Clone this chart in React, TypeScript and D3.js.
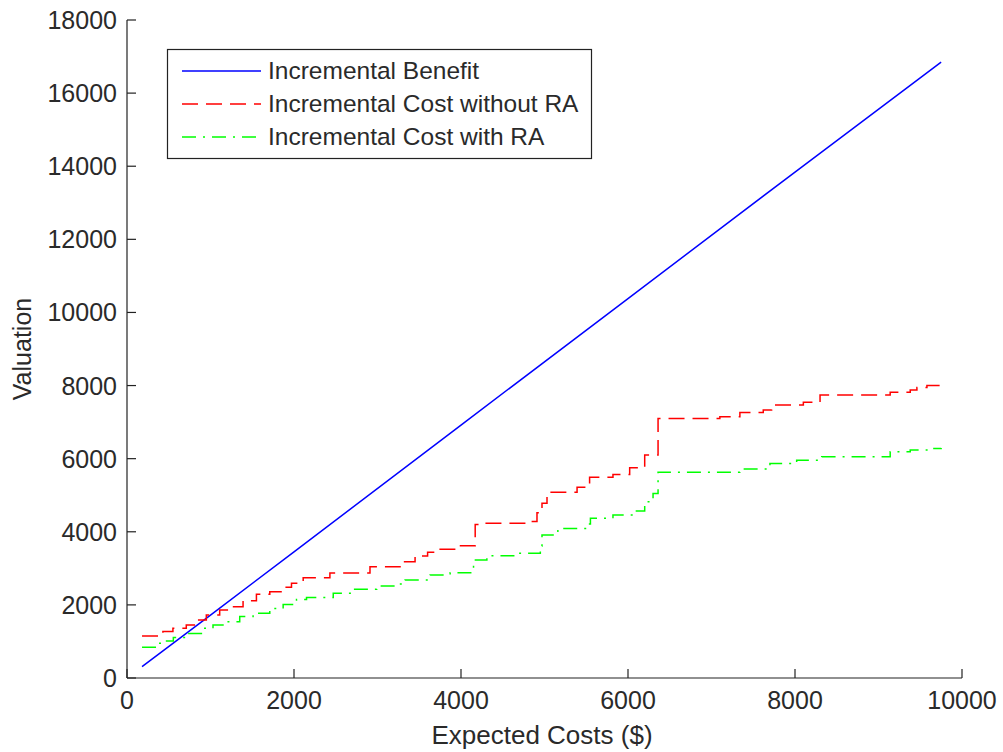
import React from "react";
import * as d3 from "d3";

const width = 1003;
const height = 752;

// expected cost ($) -> valuation
const benefitX = [180, 1000, 2000, 4000, 6000, 8000, 9750];
const benefitY = [310, 1720, 3450, 6920, 10380, 13840, 16850];

const costNoRaX = [180, 430, 550, 710, 830, 950, 1110, 1230, 1390, 1550, 1710, 1870, 1970, 2110, 2430, 2910, 3270, 3450, 3600, 3690, 3950, 4170, 4260, 4790, 4910, 4970, 5030, 5390, 5540, 5820, 6020, 6200, 6360, 7100, 7340, 7620, 7720, 8100, 8300, 9140, 9380, 9460, 9580, 9750];
const costNoRaY = [1150, 1270, 1360, 1450, 1590, 1720, 1860, 1950, 2110, 2290, 2360, 2480, 2590, 2740, 2870, 3040, 3180, 3340, 3440, 3520, 3620, 4200, 4230, 4280, 4520, 4780, 5080, 5215, 5490, 5570, 5750, 6100, 7100, 7150, 7265, 7330, 7470, 7540, 7740, 7815, 7880, 7950, 8000, 8010];

const costRaX = [180, 355, 455, 555, 715, 915, 1030, 1190, 1350, 1510, 1710, 1870, 2030, 2150, 2470, 2710, 2990, 3230, 3330, 3630, 3870, 4150, 4310, 4670, 4950, 4970, 5160, 5510, 5550, 5820, 6060, 6200, 6300, 6360, 7340, 7700, 8020, 8320, 9140, 9380, 9650, 9750];
const costRaY = [840, 950, 1010, 1110, 1220, 1360, 1450, 1540, 1680, 1770, 1900, 2010, 2150, 2200, 2320, 2430, 2520, 2570, 2680, 2820, 2880, 3230, 3345, 3410, 3610, 3910, 4090, 4210, 4370, 4460, 4570, 4820, 5050, 5630, 5720, 5870, 5960, 6050, 6190, 6240, 6280, 6290];

const xTicks = [0, 2000, 4000, 6000, 8000, 10000];
const yTicks = [0, 2000, 4000, 6000, 8000, 10000, 12000, 14000, 16000, 18000];

const series = [
  { name: "Incremental Benefit", xs: benefitX, ys: benefitY, color: "#0000ff", dash: "none", step: false },
  { name: "Incremental Cost without RA", xs: costNoRaX, ys: costNoRaY, color: "#ff0000", dash: "16,8", step: true },
  { name: "Incremental Cost with RA", xs: costRaX, ys: costRaY, color: "#00ff00", dash: "14,7,2,7", step: true },
];

const font = "'Liberation Sans', Arial, sans-serif";

export default function App() {
  const x = d3.scaleLinear().domain([0, 10000]).range([127, 962]);
  const y = d3.scaleLinear().domain([0, 18000]).range([678, 20]);

  const [x0, x1] = x.range();
  const [y0, y1] = y.range();

  return (
    <svg
      width={width}
      height={height}
      style={{ position: "absolute", left: 0, top: 0, background: "#fff" }}
      fontFamily={font}
    >
      {series.map((s) => {
        const pts = s.xs.map((v, i) => [v, s.ys[i]] as [number, number]);
        const line = d3
          .line<[number, number]>()
          .x((d) => x(d[0]))
          .y((d) => y(d[1]))
          .curve(s.step ? d3.curveStepAfter : d3.curveLinear);
        return (
          <path
            key={s.name}
            d={line(pts) || ""}
            fill="none"
            stroke={s.color}
            strokeWidth={1.5}
            strokeDasharray={s.dash}
          />
        );
      })}

      {/* axes, box off like matlab */}
      <line x1={x0} x2={x1} y1={y0} y2={y0} stroke="#222" strokeWidth={1.2} />
      <line x1={x0} x2={x0} y1={y0} y2={y1} stroke="#222" strokeWidth={1.2} />

      {xTicks.map((t) => (
        <g key={"x" + t}>
          <line x1={x(t)} x2={x(t)} y1={y0} y2={y0 - 9} stroke="#222" strokeWidth={1.2} />
          <text x={x(t)} y={709} textAnchor="middle" fontSize={25} fill="#2a2a2a">
            {t}
          </text>
        </g>
      ))}
      {yTicks.map((t) => (
        <g key={"y" + t}>
          <line x1={x0} x2={x0 + 9} y1={y(t)} y2={y(t)} stroke="#222" strokeWidth={1.2} />
          <text x={117} y={y(t) + 9} textAnchor="end" fontSize={25} fill="#2a2a2a">
            {t}
          </text>
        </g>
      ))}

      <text x={542} y={744} textAnchor="middle" fontSize={26} fill="#2a2a2a">
        Expected Costs ($)
      </text>
      <text
        transform={`translate(31, ${349}) rotate(-90)`}
        textAnchor="middle"
        fontSize={25}
        fill="#2a2a2a"
      >
        Valuation
      </text>

      {/* legend */}
      <rect x={167.5} y={49.5} width={424} height={109} fill="#fff" stroke="#222" strokeWidth={1.2} />
      {series.map((s, i) => {
        const ly = 71 + i * 33;
        return (
          <g key={"lg" + i}>
            <line
              x1={182}
              x2={261}
              y1={ly}
              y2={ly}
              stroke={s.color}
              strokeWidth={1.5}
              strokeDasharray={s.dash}
            />
            <text x={268} y={ly + 8} fontSize={24.5} fill="#2a2a2a">
              {s.name}
            </text>
          </g>
        );
      })}
    </svg>
  );
}
